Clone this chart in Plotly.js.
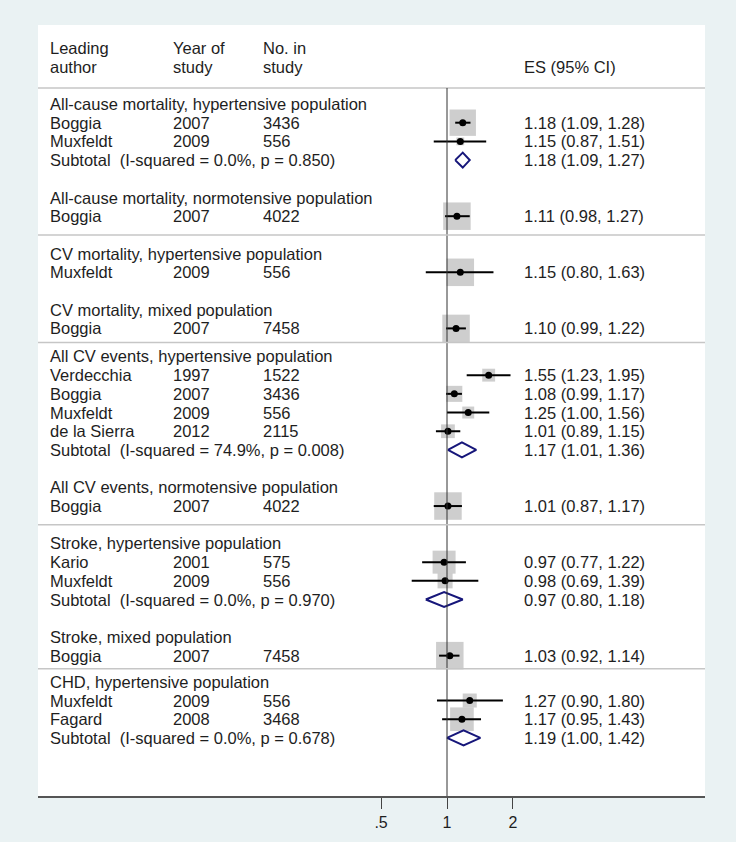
<!DOCTYPE html>
<html>
<head>
<meta charset="utf-8">
<script src="https://cdn.plot.ly/plotly-3.0.1.min.js"></script>
<style>
  body { margin: 0; background: #eaf2f3; }
  #forest { width: 736px; height: 842px; }
</style>
</head>
<body>
<div id="forest"></div>
<script>
// DADOS DO FOREST PLOT

// titulos de cada grupo
const groupTitles = [
  "All-cause mortality, hypertensive population",
  "All-cause mortality, normotensive population",
  "CV mortality, hypertensive population",
  "CV mortality, mixed population",
  "All CV events, hypertensive population",
  "All CV events, normotensive population",
  "Stroke, hypertensive population",
  "Stroke, mixed population",
  "CHD, hypertensive population"
];

// estudos (um por linha)
const studyGroup  = [0, 0, 1, 2, 3, 4, 4, 4, 4, 5, 6, 6, 7, 8, 8];
const studyAuthor = ["Boggia", "Muxfeldt", "Boggia", "Muxfeldt", "Boggia", "Verdecchia", "Boggia", "Muxfeldt", "de la Sierra", "Boggia", "Kario", "Muxfeldt", "Boggia", "Muxfeldt", "Fagard"];
const studyYear   = ["2007", "2009", "2007", "2009", "2007", "1997", "2007", "2009", "2012", "2007", "2001", "2009", "2007", "2009", "2008"];
const studyN      = ["3436", "556", "4022", "556", "7458", "1522", "3436", "556", "2115", "4022", "575", "556", "7458", "556", "3468"];
const studyES     = [1.18, 1.15, 1.11, 1.15, 1.10, 1.55, 1.08, 1.25, 1.01, 1.01, 0.97, 0.98, 1.03, 1.27, 1.17];
const studyLo     = [1.09, 0.87, 0.98, 0.80, 0.99, 1.23, 0.99, 1.00, 0.89, 0.87, 0.77, 0.69, 0.92, 0.90, 0.95];
const studyHi     = [1.28, 1.51, 1.27, 1.63, 1.22, 1.95, 1.17, 1.56, 1.15, 1.17, 1.22, 1.39, 1.14, 1.80, 1.43];
// peso (%) dentro do grupo
const studyWeight = [92, 8, 100, 100, 100, 22, 34, 19, 25, 100, 70, 30, 100, 26, 74];

// subtotais
const subGroup = [0, 4, 6, 8];
const subI2    = ["0.0%", "74.9%", "0.0%", "0.0%"];
const subP     = ["0.850", "0.008", "0.970", "0.678"];
const subES    = [1.18, 1.17, 0.97, 1.19];
const subLo    = [1.09, 1.01, 0.80, 1.00];
const subHi    = [1.27, 1.36, 1.18, 1.42];

// grupos com linha separadora depois
const lineAfter = [1, 3, 5, 7];

// LAYOUT
const ROW_PX = 18.7;
const FIRST_ROW_PX = 104;
const PANEL_TOP = 25, PANEL_BOTTOM = 796, PANEL_LEFT = 38, PANEL_RIGHT = 705;
const GAP_AFTER = [2, 2, 2, 1.5, 2, 2, 2, 1.4];
const BOX_MAX = 27.5;
const FONT = { family: "Liberation Sans, Arial, sans-serif", size: 16.5, color: "#1e1e1e" };

// posicao de cada linha (em unidades de linha)
const headerRow = [];
const studyRow = [];
const subRow = [];
const lastRow = [];
let r = 0;
for (let g = 0; g < groupTitles.length; g++) {
  headerRow[g] = r;
  for (let i = 0; i < studyGroup.length; i++) {
    if (studyGroup[i] === g) { r += 1; studyRow[i] = r; }
  }
  const s = subGroup.indexOf(g);
  if (s >= 0) { r += 1; subRow[s] = r; }
  lastRow[g] = r;
  r += (GAP_AFTER[g] || 0);
}

const yTop = (PANEL_TOP - FIRST_ROW_PX) / ROW_PX;
const yBottom = (PANEL_BOTTOM - FIRST_ROW_PX) / ROW_PX;
const headerLineRow = (88 - FIRST_ROW_PX) / ROW_PX;

function fmt(v) { return v.toFixed(2); }
function px2paper(x) { return (x - PANEL_LEFT) / (PANEL_RIGHT - PANEL_LEFT); }

// TRACOS
const boxes = {
  x: studyES, y: studyRow, mode: "markers", type: "scatter", hoverinfo: "skip",
  marker: { symbol: "square", color: "#b9b9b9", size: studyWeight.map(w => BOX_MAX * Math.sqrt(w / 100)), line: { width: 0 } }
};

const ciX = [], ciY = [];
for (let i = 0; i < studyES.length; i++) {
  ciX.push(studyLo[i], studyHi[i], null);
  ciY.push(studyRow[i], studyRow[i], null);
}
const ciLines = {
  x: ciX, y: ciY, mode: "lines", type: "scatter", hoverinfo: "skip",
  line: { color: "#000", width: 2 }
};
const dots = {
  x: studyES, y: studyRow, mode: "markers", type: "scatter", hoverinfo: "skip",
  marker: { symbol: "circle", color: "#000", size: 7 }
};

const dX = [], dY = [];
const dh = 0.4;
for (let i = 0; i < subES.length; i++) {
  dX.push(subLo[i], subES[i], subHi[i], subES[i], subLo[i], null);
  dY.push(subRow[i], subRow[i] - dh, subRow[i], subRow[i] + dh, subRow[i], null);
}
const diamonds = {
  x: dX, y: dY, mode: "lines", type: "scatter", hoverinfo: "skip",
  line: { color: "#16167a", width: 2 }
};

// TEXTOS
const colAuthor = px2paper(48), colYear = px2paper(171), colN = px2paper(261), colES = px2paper(522);
const ann = [];
function addText(txt, xp, y) {
  ann.push({ text: txt, xref: "paper", yref: "y", x: xp, y: y, xanchor: "left", yanchor: "middle", showarrow: false, font: FONT });
}
addText("Leading", colAuthor, (48 - FIRST_ROW_PX) / ROW_PX);
addText("author", colAuthor, (67 - FIRST_ROW_PX) / ROW_PX);
addText("Year of", colYear, (48 - FIRST_ROW_PX) / ROW_PX);
addText("study", colYear, (67 - FIRST_ROW_PX) / ROW_PX);
addText("No. in", colN, (48 - FIRST_ROW_PX) / ROW_PX);
addText("study", colN, (67 - FIRST_ROW_PX) / ROW_PX);
addText("ES (95% CI)", colES, (67 - FIRST_ROW_PX) / ROW_PX);

for (let g = 0; g < groupTitles.length; g++) addText(groupTitles[g], colAuthor, headerRow[g]);
for (let i = 0; i < studyAuthor.length; i++) {
  addText(studyAuthor[i], colAuthor, studyRow[i]);
  addText(studyYear[i], colYear, studyRow[i]);
  addText(studyN[i], colN, studyRow[i]);
  addText(fmt(studyES[i]) + " (" + fmt(studyLo[i]) + ", " + fmt(studyHi[i]) + ")", colES, studyRow[i]);
}
for (let s = 0; s < subES.length; s++) {
  addText("Subtotal \u00a0(I-squared = " + subI2[s] + ", p = " + subP[s] + ")", colAuthor, subRow[s]);
  addText(fmt(subES[s]) + " (" + fmt(subLo[s]) + ", " + fmt(subHi[s]) + ")", colES, subRow[s]);
}

// LINHAS
const shapes = [
  { type: "line", xref: "paper", yref: "y", x0: 0, x1: 1, y0: headerLineRow, y1: headerLineRow, line: { color: "#c6c6c6", width: 1.5 } },
  { type: "line", xref: "x", yref: "y", x0: 1, x1: 1, y0: headerLineRow, y1: yBottom, line: { color: "#333", width: 1 } }
];
lineAfter.forEach(function(g) {
  // meio entre a ultima linha do grupo e o titulo do proximo
  const y = (lastRow[g] + headerRow[g + 1]) / 2;
  shapes.push({ type: "line", xref: "paper", yref: "y", x0: 0, x1: 1, y0: y, y1: y, line: { color: "#c6c6c6", width: 1.5 } });
});

const xLeft = (PANEL_LEFT - 447) / 219, xRight = (PANEL_RIGHT - 447) / 219;

const layout = {
  width: 736, height: 842,
  margin: { l: PANEL_LEFT, r: 736 - PANEL_RIGHT, t: PANEL_TOP, b: 842 - PANEL_BOTTOM },
  paper_bgcolor: "#eaf2f3",
  plot_bgcolor: "#ffffff",
  showlegend: false,
  xaxis: {
    type: "log", range: [xLeft, xRight],
    tickvals: [0.5, 1, 2], ticktext: [".5", "1", "2"],
    ticks: "outside", ticklen: 11, tickwidth: 1, tickcolor: "#444",
    showline: true, linecolor: "#555", linewidth: 2,
    showgrid: false, zeroline: false,
    tickfont: { family: FONT.family, size: 16, color: "#1e1e1e" }
  },
  yaxis: {
    range: [yBottom, yTop], showgrid: false, zeroline: false, showticklabels: false, ticks: "", showline: false
  },
  annotations: ann,
  shapes: shapes
};

Plotly.newPlot("forest", [boxes, ciLines, dots, diamonds], layout, { displayModeBar: false, staticPlot: true });
</script>
</body>
</html>
